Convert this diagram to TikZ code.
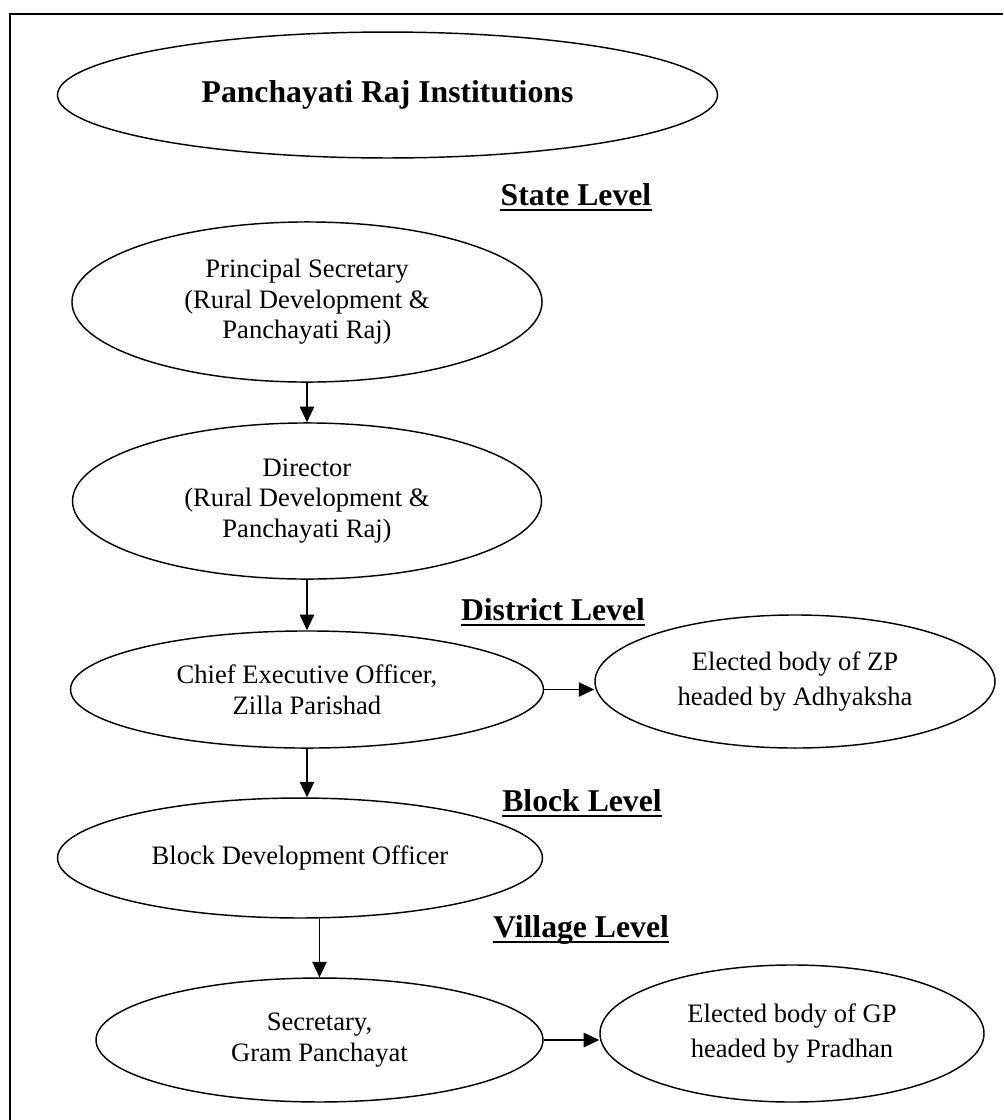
\documentclass[tikz,border=0pt]{standalone}
\usepackage{fontspec}
\setmainfont{Liberation Serif}
\usetikzlibrary{shapes.geometric,arrows.meta}
\begin{document}
\begin{tikzpicture}[x=0.451pt,y=-0.451pt,
    office/.style={draw,ellipse,line width=0.65pt,inner sep=0pt,align=center,
      font=\fontsize{12}{13.8}\selectfont},
    elected/.style={office,font=\fontsize{12}{15.8}\selectfont},
    levelhead/.style={anchor=base,inner sep=0pt,font=\fontsize{14.3}{17}\selectfont\bfseries},
    flow/.style={-{Triangle[length=7pt,width=6.5pt]},line width=0.5pt}]
      \useasboundingbox (0,0) rectangle (1003,1120);
      \draw[line width=0.9pt] (10,1120) -- (10,14) -- (1003,14);
%
      \node[office,minimum width=297.7pt,minimum height=56.8pt,
        font=\fontsize{14.3}{17}\selectfont\bfseries] (pri) at (387.5,95) {Panchayati Raj Institutions};
%
      \node[levelhead] (state) at (576,205) {State Level};
      \node[levelhead] (district) at (553,620) {District Level};
      \node[levelhead] (block) at (582,811) {Block Level};
      \node[levelhead] (village) at (581,937) {Village Level};
      \foreach \lv in {state,district,block,village}
        \draw[line width=1.2pt] ([yshift=-2.3pt]\lv.base west) -- ([yshift=-2.3pt]\lv.base east);
%
      \node[office,minimum width=212pt,minimum height=72.2pt] (psec) at (307,302)
        {Principal Secretary\\(Rural Development \&\\Panchayati Raj)};
      \node[office,minimum width=211.5pt,minimum height=70.4pt] (dir) at (307,501)
        {Director\\(Rural Development \&\\Panchayati Raj)};
      \node[office,minimum width=213.3pt,minimum height=52.8pt] (ceo) at (307,689.5)
        {Chief Executive Officer,\\Zilla Parishad};
      \node[elected,minimum width=180.4pt,minimum height=60pt] (zp) at (795,681.5)
        {Elected body of ZP\\headed by Adhyaksha};
      \node[office,minimum width=218.7pt,minimum height=54.1pt] (bdo) at (300,858)
        {Block Development Officer};
      \node[office,minimum width=201.6pt,minimum height=55.9pt] (sec) at (319.5,1040)
        {Secretary,\\Gram Panchayat};
      \node[elected,minimum width=173.2pt,minimum height=61.8pt] (gp) at (792,1033.5)
        {Elected body of GP\\headed by Pradhan};
%
      \draw[flow] (psec) -- (dir);
      \draw[flow] (dir) -- (ceo);
      \draw[flow] (ceo.south) -- (ceo.south |- bdo.north);
      \draw[flow] (sec.north |- bdo.south) -- (sec.north);
%
      \draw[flow] (ceo.east) -- (ceo.east -| zp.west);
      \draw[flow] (sec.east) -- (sec.east -| gp.west);
%
\end{tikzpicture}
\end{document}
